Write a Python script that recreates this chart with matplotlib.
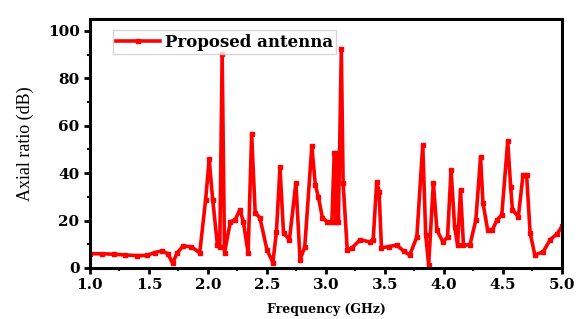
import matplotlib.pyplot as plt
from matplotlib.ticker import MultipleLocator

# frequency (GHz) and axial ratio (dB)
freq = [1.00, 1.10, 1.20, 1.30, 1.40, 1.48, 1.55, 1.61, 1.66, 1.70, 1.74,
        1.79, 1.86, 1.93, 1.98, 2.01, 2.04, 2.08, 2.10, 2.12, 2.14, 2.19,
        2.23, 2.27, 2.30, 2.34, 2.37, 2.40, 2.44, 2.50, 2.55, 2.58, 2.61,
        2.64, 2.69, 2.745, 2.78, 2.82, 2.88, 2.91, 2.935, 2.97, 3.01, 3.05,
        3.07, 3.085, 3.095, 3.105, 3.13, 3.145, 3.18, 3.22, 3.29, 3.37,
        3.40, 3.43, 3.45, 3.47, 3.53, 3.60, 3.66, 3.71, 3.77, 3.82, 3.845,
        3.87, 3.91, 3.94, 3.99, 4.03, 4.06, 4.09, 4.115, 4.14, 4.165, 4.22,
        4.27, 4.31, 4.33, 4.37, 4.41, 4.45, 4.49, 4.54, 4.565, 4.58, 4.63,
        4.67, 4.70, 4.73, 4.77, 4.84, 4.90, 4.96, 5.00]
ar = [6.0, 6.0, 5.8, 5.5, 5.2, 5.3, 6.5, 7.2, 6.0, 2.0, 6.5,
      9.3, 8.9, 6.4, 28.8, 45.8, 28.8, 9.7, 9.0, 90.5, 6.5, 19.5,
      20.3, 24.6, 19.5, 6.3, 56.4, 23.3, 21.2, 7.6, 2.3, 15.3, 42.4,
      14.8, 11.9, 36.0, 3.4, 8.9, 51.3, 35.0, 30.0, 21.2, 19.5, 19.5,
      48.7, 19.5, 48.7, 19.5, 92.4, 36.0, 7.6, 8.5, 11.9, 11.0,
      11.9, 36.4, 32.2, 8.5, 9.0, 9.7, 7.0, 5.5, 13.1, 52.0, 14.0,
      1.3, 36.0, 16.1, 11.0, 13.0, 41.5, 17.4, 9.7, 33.0, 9.7, 9.7,
      20.3, 47.0, 27.5, 16.1, 16.1, 20.3, 22.5, 53.4, 34.3, 24.6, 21.6,
      39.4, 39.4, 14.8, 5.5, 6.8, 11.9, 14.5, 17.5]

plt.rcParams['font.family'] = ['Liberation Serif', 'DejaVu Serif']

fig = plt.figure(figsize=(5.78, 3.19), dpi=100)
ax = fig.add_axes([0.1557, 0.160, 0.8166, 0.780])

ax.plot(freq, ar, color='#ff0000', linewidth=2.6, marker='s', markersize=3,
        label='Proposed antenna')

ax.set_xlim(1.0, 5.0)
ax.set_ylim(0, 105)
ax.xaxis.set_major_locator(MultipleLocator(0.5))
ax.xaxis.set_minor_locator(MultipleLocator(0.25))
ax.yaxis.set_major_locator(MultipleLocator(20))
ax.yaxis.set_minor_locator(MultipleLocator(10))
ax.xaxis.set_major_formatter(plt.FormatStrFormatter('%.1f'))

for s in ax.spines.values():
    s.set_linewidth(2.2)
ax.tick_params(axis='both', which='major', direction='out', length=4, width=2,
               labelsize=11)
ax.tick_params(axis='both', which='minor', direction='out', length=2.5, width=1.5)
for lab in ax.get_xticklabels() + ax.get_yticklabels():
    lab.set_fontweight('bold')
    lab.set_family('DejaVu Serif')

ax.set_xlabel('Frequency (GHz)', fontsize=9, fontweight='bold',
              family='DejaVu Serif', labelpad=8)
ax.set_ylabel('Axial ratio (dB)', fontsize=13, labelpad=10)

leg = ax.legend(loc='upper left', bbox_to_anchor=(0.049, 0.955), fancybox=False,
                prop={'weight': 'bold', 'size': 12, 'family': 'DejaVu Serif'},
                handlelength=2.6, borderpad=0.2, handletextpad=0.3,
                borderaxespad=0)
leg.get_frame().set_edgecolor('#cccccc')
leg.get_frame().set_linewidth(1)

plt.savefig('out.png', dpi=100)
